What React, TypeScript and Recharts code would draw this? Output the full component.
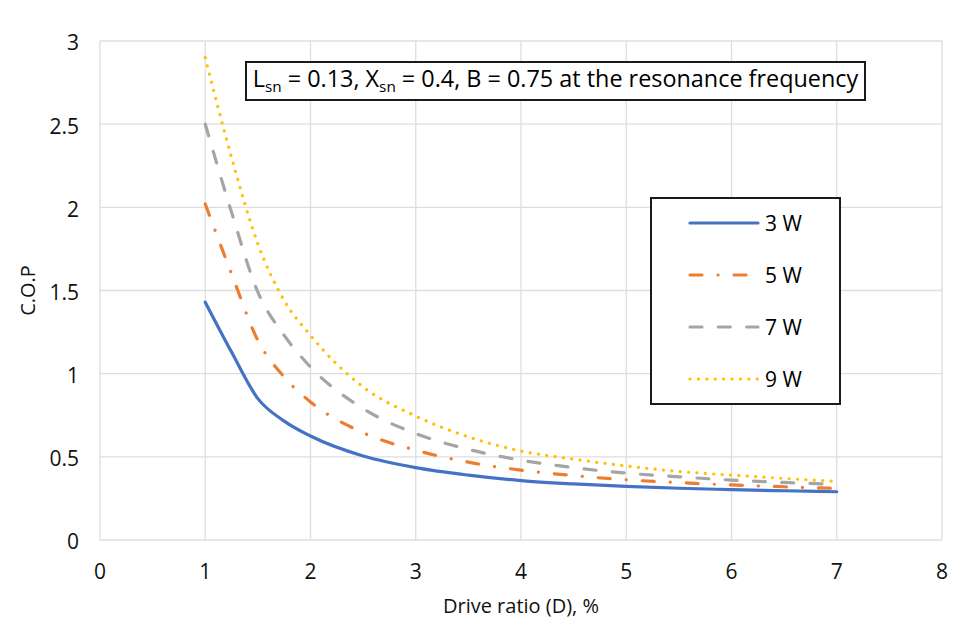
import React from 'react';
import { LineChart, Line, XAxis, YAxis, CartesianGrid, Legend } from 'recharts';

const driveRatio = [1, 1.25, 1.5, 1.75, 2, 2.5, 3, 3.5, 4, 4.5, 5, 5.5, 6, 6.5, 7];
const cop3W = [1.43, 1.13, 0.85, 0.715, 0.625, 0.505, 0.435, 0.39, 0.357, 0.337, 0.322, 0.311, 0.303, 0.296, 0.29];
const cop5W = [2.02, 1.6, 1.2, 0.98, 0.83, 0.645, 0.54, 0.468, 0.42, 0.387, 0.362, 0.345, 0.331, 0.32, 0.31];
const cop7W = [2.5, 1.97, 1.49, 1.23, 1.04, 0.79, 0.64, 0.545, 0.48, 0.435, 0.402, 0.38, 0.36, 0.346, 0.335];
const cop9W = [2.9, 2.3, 1.78, 1.44, 1.23, 0.92, 0.745, 0.62, 0.535, 0.486, 0.445, 0.412, 0.39, 0.37, 0.352];

const xTicks = [0, 1, 2, 3, 4, 5, 6, 7, 8];
const yTicks = [0, 0.5, 1, 1.5, 2, 2.5, 3];

const seriesNames = ['3 W', '5 W', '7 W', '9 W'];
const seriesKeys = ['w3', 'w5', 'w7', 'w9'];
const seriesColors = ['#4472C4', '#ED7D31', '#A5A5A5', '#FFC000'];
const seriesDash = [undefined, '12 16 0.1 16', '12 16.3', '0.1 8.3'];

const data = driveRatio.map((d, i) => ({
  d,
  w3: cop3W[i],
  w5: cop5W[i],
  w7: cop7W[i],
  w9: cop9W[i],
}));

const FONT = '"Open Sans", "Noto Sans", sans-serif';

const LegendBox = () => (
  <div
    style={{
      width: 191,
      height: 208,
      boxSizing: 'border-box',
      border: '2px solid #1a1a1a',
      background: '#fff',
      position: 'relative',
      fontFamily: FONT,
    }}
  >
    <svg width={187} height={204} style={{ position: 'absolute', left: 0, top: 0 }}>
      {seriesNames.map((name, i) => {
        const y = 24 + i * 52;
        return (
          <g key={name}>
            <line
              x1={38}
              x2={106}
              y1={y}
              y2={y}
              stroke={seriesColors[i]}
              strokeWidth={3.2}
              strokeLinecap="round"
              strokeDasharray={seriesDash[i]}
            />
            <text x={113} y={y} dominantBaseline="central" fontSize={21} fill="#000" fontFamily={FONT}>
              {name}
            </text>
          </g>
        );
      })}
    </svg>
  </div>
);

export default function App() {
  return (
    <div style={{ position: 'relative', width: 951, height: 620, background: '#fff' }}>
      <div
        style={{
          position: 'absolute',
          left: -5,
          top: -1,
          width: 970,
          height: 640,
          borderLeft: '1px solid #d9d9d9',
          borderTop: '1px solid #d9d9d9',
          pointerEvents: 'none',
        }}
      />
      <LineChart width={951} height={620} data={data} margin={{ top: 33, right: 17, left: 0, bottom: 8 }}>
        <CartesianGrid stroke="#DEDEDE" strokeWidth={1.3} />
        <XAxis
          dataKey="d"
          type="number"
          domain={[0, 8]}
          ticks={xTicks}
          axisLine={false}
          tickLine={false}
          tickSize={0}
          tickMargin={24}
          height={80}
          tick={{ fontSize: 21, fill: '#111', fontFamily: FONT }}
          label={{
            value: 'Drive ratio (D), %',
            position: 'insideBottom',
            offset: 7,
            fontSize: 20,
            fill: '#111',
            fontFamily: FONT,
          }}
        />
        <YAxis
          type="number"
          domain={[0, 3]}
          ticks={yTicks}
          axisLine={false}
          tickLine={false}
          tickSize={0}
          tickMargin={21}
          width={92}
          tick={{ fontSize: 21, fill: '#111', fontFamily: FONT, dy: 2 }}
          label={{
            content: (props: any) => {
              const vb = props.viewBox || { x: 0, y: 33, width: 92, height: 499 };
              const cx = vb.x + 19;
              const cy = vb.y + vb.height / 2;
              return (
                <text
                  x={cx}
                  y={cy}
                  transform={`rotate(-90 ${cx} ${cy})`}
                  textAnchor="middle"
                  dominantBaseline="central"
                  fontSize={20}
                  fill="#111"
                  fontFamily={FONT}
                >
                  C.O.P
                </text>
              );
            },
          }}
        />
        {seriesKeys.map((k, i) => (
          <Line
            key={k}
            type="monotone"
            dataKey={k}
            name={seriesNames[i]}
            stroke={seriesColors[i]}
            strokeWidth={3.2}
            strokeLinecap="round"
            strokeDasharray={seriesDash[i]}
            dot={false}
            activeDot={false}
            isAnimationActive={false}
          />
        ))}
        <Legend
          layout="vertical"
          align="center"
          verticalAlign="middle"
          content={() => <LegendBox />}
          wrapperStyle={{ left: 642, top: 189, width: 191, height: 208 }}
        />
      </LineChart>
      <div
        style={{
          position: 'absolute',
          left: 237,
          top: 53,
          width: 621,
          height: 40,
          boxSizing: 'border-box',
          border: '2px solid #1a1a1a',
          background: '#fff',
          display: 'flex',
          alignItems: 'center',
          justifyContent: 'center',
          fontFamily: FONT,
          fontSize: 23.4,
          color: '#000',
          whiteSpace: 'nowrap',
          lineHeight: 1,
        }}
      >
        <span>
          L<sub style={{ fontSize: 15.3, verticalAlign: -5 }}>sn</sub> = 0.13, X
          <sub style={{ fontSize: 15.3, verticalAlign: -5 }}>sn</sub> = 0.4, B = 0.75 at the resonance frequency
        </span>
      </div>
    </div>
  );
}
